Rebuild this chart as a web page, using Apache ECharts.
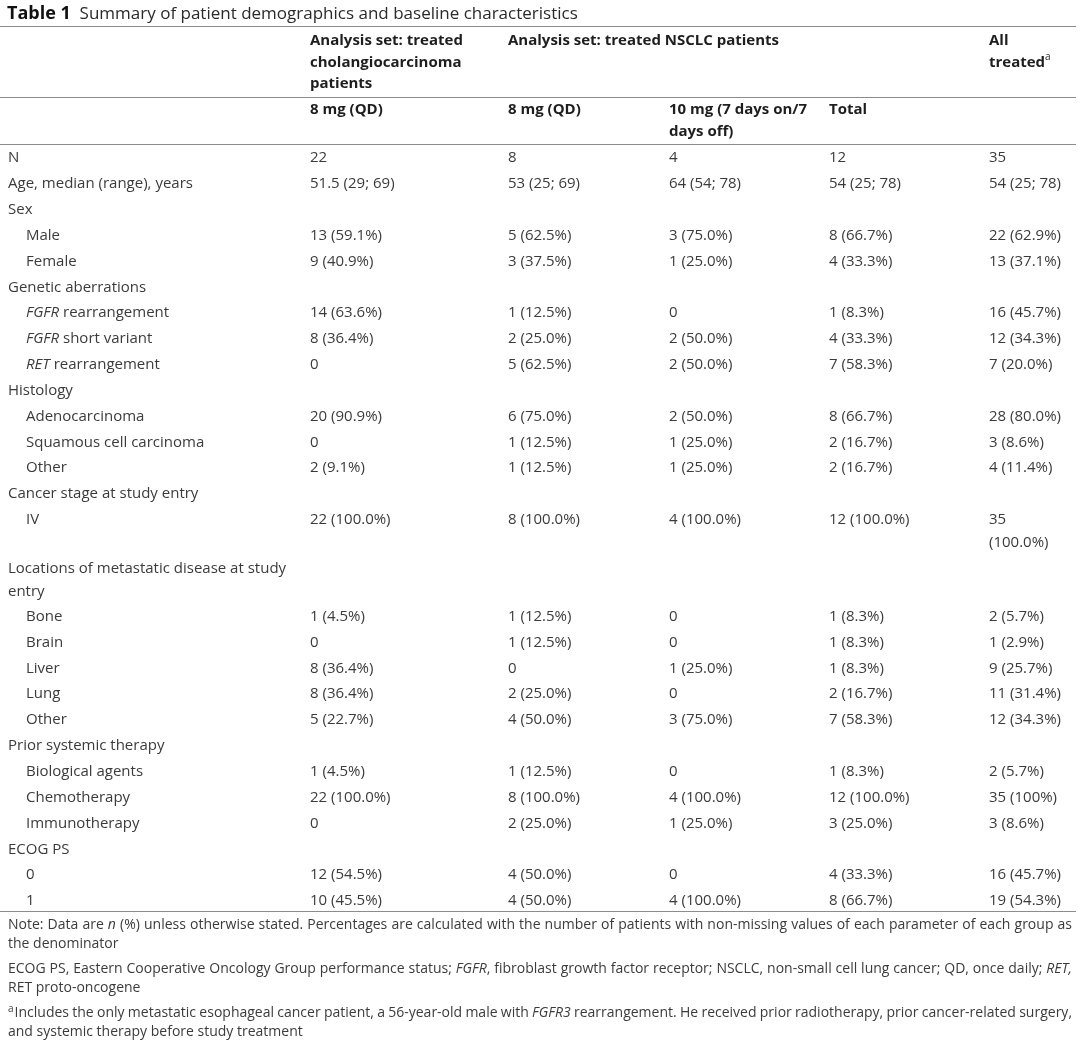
<!DOCTYPE html>
<html><head><meta charset="utf-8">
<script src="https://cdn.jsdelivr.net/npm/echarts@6/dist/echarts.min.js"></script>
<style>html,body{margin:0;padding:0;background:#fff}#c{width:1080px;height:1046px}</style>
</head><body><div id="c"></div>
<script>
// ---------------- DATA ----------------
const titleBold = 'Table 1';
const titleText = 'Summary of patient demographics and baseline characteristics';
const groupHeaders = ['Analysis set: treated\ncholangiocarcinoma\npatients', 'Analysis set: treated NSCLC patients', 'All\ntreated{sup|a}'];
const doseHeaders = ['8 mg (QD)', '8 mg (QD)', '10 mg (7 days on/7\ndays off)', 'Total'];
const rowLabels = [
  'N', 'Age, median (range), years', 'Sex', 'Male', 'Female', 'Genetic aberrations',
  '{i|FGFR} rearrangement', '{i|FGFR} short variant', '{i|RET} rearrangement', 'Histology',
  'Adenocarcinoma', 'Squamous cell carcinoma', 'Other', 'Cancer stage at study entry', 'IV',
  'Locations of metastatic disease at study\nentry', 'Bone', 'Brain', 'Liver', 'Lung', 'Other',
  'Prior systemic therapy', 'Biological agents', 'Chemotherapy', 'Immunotherapy', 'ECOG PS', '0', '1'
];
const rowLevel = [0,0,0,1,1,0,1,1,1,0,1,1,1,0,1,0,1,1,1,1,1,0,1,1,1,0,1,1];
const cholangio8mg = ['22','51.5 (29; 69)','','13 (59.1%)','9 (40.9%)','','14 (63.6%)','8 (36.4%)','0','',
  '20 (90.9%)','0','2 (9.1%)','','22 (100.0%)','','1 (4.5%)','0','8 (36.4%)','8 (36.4%)','5 (22.7%)','',
  '1 (4.5%)','22 (100.0%)','0','','12 (54.5%)','10 (45.5%)'];
const nsclc8mg = ['8','53 (25; 69)','','5 (62.5%)','3 (37.5%)','','1 (12.5%)','2 (25.0%)','5 (62.5%)','',
  '6 (75.0%)','1 (12.5%)','1 (12.5%)','','8 (100.0%)','','1 (12.5%)','1 (12.5%)','0','2 (25.0%)','4 (50.0%)','',
  '1 (12.5%)','8 (100.0%)','2 (25.0%)','','4 (50.0%)','4 (50.0%)'];
const nsclc10mg = ['4','64 (54; 78)','','3 (75.0%)','1 (25.0%)','','0','2 (50.0%)','2 (50.0%)','',
  '2 (50.0%)','1 (25.0%)','1 (25.0%)','','4 (100.0%)','','0','0','1 (25.0%)','0','3 (75.0%)','',
  '0','4 (100.0%)','1 (25.0%)','','0','4 (100.0%)'];
const nsclcTotal = ['12','54 (25; 78)','','8 (66.7%)','4 (33.3%)','','1 (8.3%)','4 (33.3%)','7 (58.3%)','',
  '8 (66.7%)','2 (16.7%)','2 (16.7%)','','12 (100.0%)','','1 (8.3%)','1 (8.3%)','1 (8.3%)','2 (16.7%)','7 (58.3%)','',
  '1 (8.3%)','12 (100.0%)','3 (25.0%)','','4 (33.3%)','8 (66.7%)'];
const allTreated = ['35','54 (25; 78)','','22 (62.9%)','13 (37.1%)','','16 (45.7%)','12 (34.3%)','7 (20.0%)','',
  '28 (80.0%)','3 (8.6%)','4 (11.4%)','','35\n(100.0%)','','2 (5.7%)','1 (2.9%)','9 (25.7%)','11 (31.4%)','12 (34.3%)','',
  '2 (5.7%)','35 (100%)','3 (8.6%)','','16 (45.7%)','19 (54.3%)'];
const footnoteLines = [
  'Note: Data are {i|n} (%) unless otherwise stated. Percentages are calculated with the number of patients with non-missing values of each parameter of each group as',
  'the denominator',
  'ECOG PS, Eastern Cooperative Oncology Group performance status; {i|FGFR}, fibroblast growth factor receptor; NSCLC, non-small cell lung cancer; QD, once daily; {i|RET,}',
  'RET proto-oncogene',
  '{sup|a}Includes the only metastatic esophageal cancer patient, a 56-year-old male with {i|FGFR3} rearrangement. He received prior radiotherapy, prior cancer-related surgery,',
  'and systemic therapy before study treatment'
];
const footnoteJustified = [true, false, true, false, true, false];

// ---------------- LAYOUT / STYLE ----------------
const W = 1080, H = 1046;
const FONT = 'Open Sans';
const columns = [rowLabels, cholangio8mg, nsclc8mg, nsclc10mg, nsclcTotal, allTreated];
const colX = [8, 310, 508, 669, 829, 989];
const indent = 18;
const bodyFont = 15, headFont = 15, noteFont = 14, titleFont = 17, titleBoldFont = 18;
const bodyColor = '#3b3b3b', headColor = '#1e1e1e';
const firstRowY = 158, rowPitch = 25.85, extraLine = 22.5, cellLH = 23;
const groupY = 41, doseY = 110, headLH = 21.6;
const rules = [[0, 1076, 26], [0, 1076, 97], [0, 1076, 144], [0, 1076, 911]];
const noteY = [925, 944, 969, 988, 1013, 1032];
const noteLeft = 8, noteRight = 1072;

const rowY = [];
(function () {
  let y = firstRowY;
  for (let r = 0; r < rowLabels.length; r++) {
    rowY.push(y);
    let lines = 1;
    columns.forEach(c => { lines = Math.max(lines, c[r].split('\n').length); });
    y += rowPitch + (lines - 1) * extraLine;
  }
})();

function richFor(size, color, lh) {
  return {
    i: { fontStyle: 'italic', fontSize: size, fontFamily: FONT, fill: color, lineHeight: lh },
    b: { fontWeight: 'bold', fontSize: size, fontFamily: FONT, fill: color, lineHeight: lh },
    sup: { fontSize: Math.round(size * 0.68), fontFamily: FONT, fill: color, verticalAlign: 'top', lineHeight: lh, padding: [0, 1, 0, 0] }
  };
}

// cell items
const cellData = [];
columns.forEach((c, ci) => c.forEach((t, ri) => { if (t !== '') cellData.push([ci, ri]); }));
const headData = [];
groupHeaders.forEach((t, i) => headData.push(['g', i]));
doseHeaders.forEach((t, i) => headData.push(['d', i]));
const groupCols = [1, 2, 5];
const doseCols = [1, 2, 3, 4];

// measurement for justified footnotes
const mctx = document.createElement('canvas').getContext('2d');
function tokens(str) {
  const out = []; const re = /\{(\w+)\|([^}]*)\}|([^{]+)/g; let m;
  while ((m = re.exec(str))) { if (m[1]) out.push([m[1], m[2]]); else out.push(['', m[3]]); }
  return out;
}
function measureRich(str, size) {
  let w = 0;
  tokens(str).forEach(([k, t]) => {
    let f = size + 'px "' + FONT + '"';
    if (k === 'i') f = 'italic ' + f;
    if (k === 'sup') f = Math.round(size * 0.68) + 'px "' + FONT + '"';
    mctx.font = f; w += mctx.measureText(t).width + (k === 'sup' ? 1 : 0);
  });
  return w;
}
function splitWords(line) {
  const words = []; let cur = ''; let depth = 0;
  for (const ch of line) {
    if (ch === '{') depth++;
    if (ch === '}') depth--;
    if (ch === ' ' && depth === 0) { if (cur) words.push(cur); cur = ''; } else cur += ch;
  }
  if (cur) words.push(cur);
  return words;
}
const noteItems = [];
footnoteLines.forEach((line, li) => {
  if (!footnoteJustified[li]) { noteItems.push({ text: line, x: noteLeft, y: noteY[li] }); return; }
  const words = splitWords(line);
  const widths = words.map(w => measureRich(w, noteFont));
  const total = widths.reduce((a, b) => a + b, 0);
  const gap = (noteRight - noteLeft - total) / (words.length - 1);
  let x = noteLeft;
  words.forEach((w, i) => { noteItems.push({ text: w, x: x, y: noteY[li] }); x += widths[i] + gap; });
});

const chart = echarts.init(document.getElementById('c'), null, { renderer: 'canvas' });
chart.setOption({
  animation: false,
  backgroundColor: '#fff',
  grid: { left: 0, right: 0, top: 0, bottom: 0 },
  xAxis: { type: 'value', min: 0, max: W, show: false },
  yAxis: { type: 'value', min: 0, max: H, inverse: true, show: false },
  series: [
    { // horizontal rules
      type: 'custom', silent: true,
      data: rules.map((r, i) => [i]),
      renderItem: function (params, api) {
        const r = rules[api.value(0)];
        const a = api.coord([r[0], r[2]]), b = api.coord([r[1], r[2]]);
        return { type: 'line', shape: { x1: a[0], y1: Math.round(a[1]) + 0.5, x2: b[0], y2: Math.round(b[1]) + 0.5 },
          style: { stroke: '#8c8c8c', lineWidth: 1 } };
      }
    },
    { // title
      type: 'custom', silent: true, data: [[0]],
      renderItem: function (params, api) {
        const p = api.coord([7, 14]);
        return { type: 'text', x: p[0], y: p[1], style: {
          text: '{b|' + titleBold + '}  ' + titleText, fontFamily: FONT, fontSize: titleFont, fill: '#2a2a2a',
          verticalAlign: 'middle', rich: { b: { fontWeight: 'bold', fontFamily: FONT, fontSize: titleBoldFont, fill: '#111' } } } };
      }
    },
    { // header cells
      type: 'custom', silent: true,
      data: headData.map((d, i) => [i]),
      renderItem: function (params, api) {
        const d = headData[api.value(0)];
        const isG = d[0] === 'g';
        const text = isG ? groupHeaders[d[1]] : doseHeaders[d[1]];
        const col = isG ? groupCols[d[1]] : doseCols[d[1]];
        const y0 = isG ? groupY : doseY;
        const p = api.coord([colX[col], y0 - headLH / 2]);
        return { type: 'text', x: p[0], y: p[1], style: {
          text: text, fontFamily: FONT, fontSize: headFont, fontWeight: 'bold', fill: headColor,
          lineHeight: headLH, verticalAlign: 'top', rich: richFor(headFont, headColor, headLH) } };
      }
    },
    { // body cells
      type: 'custom', silent: true,
      data: cellData,
      renderItem: function (params, api) {
        const ci = api.value(0), ri = api.value(1);
        const text = columns[ci][ri];
        const x = ci === 0 ? colX[0] + rowLevel[ri] * indent : colX[ci];
        const p = api.coord([x, rowY[ri] - cellLH / 2]);
        return { type: 'text', x: p[0], y: p[1], style: {
          text: text, fontFamily: FONT, fontSize: bodyFont, fill: bodyColor,
          lineHeight: cellLH, verticalAlign: 'top', rich: richFor(bodyFont, bodyColor, cellLH) } };
      }
    },
    { // footnotes
      type: 'custom', silent: true,
      data: noteItems.map((n, i) => [i]),
      renderItem: function (params, api) {
        const n = noteItems[api.value(0)];
        const p = api.coord([n.x, n.y]);
        return { type: 'text', x: p[0], y: p[1], style: {
          text: n.text, fontFamily: FONT, fontSize: noteFont, fill: bodyColor,
          verticalAlign: 'middle', rich: richFor(noteFont, bodyColor, 18) } };
      }
    }
  ]
});
</script></body></html>
